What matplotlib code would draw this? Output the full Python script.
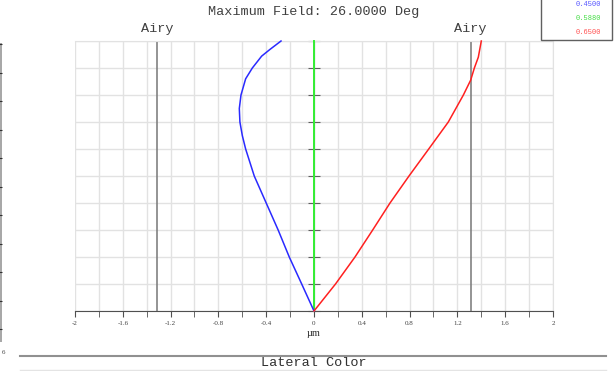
import numpy as np
import matplotlib.pyplot as plt
from matplotlib.lines import Line2D
from matplotlib.patches import Rectangle

# relative field height (0 = axis, 1 = max field) and lateral color in um,
# relative to the 0.5880 um reference wavelength
blue_field = [0.0, 0.1, 0.2, 0.3, 0.4, 0.5, 0.6, 0.65, 0.7, 0.75, 0.8, 0.86,
              0.9, 0.944, 0.969, 1.0]
blue_450 = [0.0, -0.103, -0.207, -0.30, -0.40, -0.50, -0.572, -0.60, -0.62,
            -0.625, -0.611, -0.572, -0.516, -0.438, -0.368, -0.276]
red_field = [0.0, 0.1, 0.2, 0.3, 0.4, 0.5, 0.6, 0.7, 0.8, 0.855, 0.9, 0.94, 1.0]
red_650 = [0.0, 0.18, 0.343, 0.491, 0.636, 0.795, 0.96, 1.124, 1.25, 1.311,
           1.342, 1.375, 1.40]
green_field = [0.0, 1.0]
green_588 = [0.0, 0.0]
airy_radius = 1.311
wavelengths = ['0.4500', '0.5880', '0.6500']
title = 'Maximum Field: 26.0000 Deg'
x_ticks = [-2, -1.6, -1.2, -0.8, -0.4, 0, 0.4, 0.8, 1.2, 1.6, 2]

W, H = 615, 371
fig = plt.figure(figsize=(W / 100, H / 100), dpi=100)
ax = fig.add_axes([75 / W, 60 / H, 478 / W, 270 / H])

#grid
ax.set_xlim(-2, 2)
ax.set_ylim(0, 1)
ax.set_xticks(x_ticks)
ax.set_xticklabels(['%g' % t for t in x_ticks])
ax.set_xticks(np.arange(-2, 2.01, 0.2), minor=True)
ax.set_yticks(np.arange(0, 1.01, 0.1))
ax.grid(True, which='both', color='#e2e2e2', lw=1)
ax.set_axisbelow(True)

#axes: bottom axis line and y axis at x = 0
ax.spines['left'].set_position(('data', 0))
ax.spines['left'].set_color('#808080')
ax.spines['bottom'].set_color('#505050')
ax.spines['top'].set_color('#e2e2e2')
ax.spines['right'].set_color('#e2e2e2')
ax.tick_params(axis='y', direction='inout', length=8, color='#606060',
               labelleft=False)
ax.tick_params(axis='x', which='both', direction='out', length=4,
               color='#505050', labelsize=5, labelcolor='#404040', pad=3)
for lab in ax.get_xticklabels():
    lab.set_family('Liberation Serif')
ax.set_xlabel('µm', family='Liberation Serif', fontsize=7.5, color='#303030',
              labelpad=2)

#airy disk radius
for a in (-airy_radius, airy_radius):
    ax.axvline(a, color='#777777', lw=1.1)
    ax.text(a, 1.045, 'Airy', transform=ax.get_xaxis_transform(), ha='center',
            va='center', family='Liberation Mono', fontsize=9.7, color='#404040')

#curves (drawn over the y axis spine)
ax.plot(green_588, green_field, color='#33ee33', lw=1.4, zorder=3, clip_on=False)
ax.plot(blue_450, blue_field, color='#2a2aff', lw=1.1, zorder=3, clip_on=False)
ax.plot(red_650, red_field, color='#ff2020', lw=1.1, zorder=3, clip_on=False)

#title and footer
fig.text(314 / W, 1 - 12 / H, title, ha='center', va='center',
         family='Liberation Mono', fontsize=9.7, color='#404040')
fig.text(314 / W, 1 - 363 / H, 'Lateral Color', ha='center', va='center',
         family='Liberation Mono', fontsize=9.7, color='#303030')
fig.add_artist(Line2D([20 / W, 606 / W], [1 - 356 / H] * 2, color='#909090', lw=1.5))
fig.add_artist(Line2D([20 / W, 606 / W], [1 - 370 / H] * 2, color='#e4e4e4', lw=1))

#wavelength legend box
fig.add_artist(Rectangle((541 / W, 1 - 40 / H), 71 / W, 42 / H, transform=fig.transFigure,
                         facecolor='white', edgecolor='#606060', lw=1))
for i, (wl, c) in enumerate(zip(wavelengths, ['#5555ff', '#44dd44', '#ff5050'])):
    fig.text(601 / W, 1 - (5 + 13.5 * i) / H, wl, ha='right', va='center',
             family='Liberation Mono', fontsize=5, color=c)

#clipped neighbouring panel on the left edge
side = fig.add_axes([0, 29 / H, 2 / W, 299 / H])
side.set_facecolor('#a8a8a8')
for s in side.spines.values():
    s.set_visible(False)
side.set_xticks([])
side.set_ylim(0, 299)
side.set_yticks(np.arange(13, 299, 28.5))
side.yaxis.tick_right()
side.tick_params(axis='y', direction='in', length=2, color='#303030', labelright=False)
fig.text(3 / W, 1 - 352 / H, '6', ha='center', va='center', fontsize=5,
         family='Liberation Serif', color='#404040')

plt.savefig('out.png', dpi=100)
